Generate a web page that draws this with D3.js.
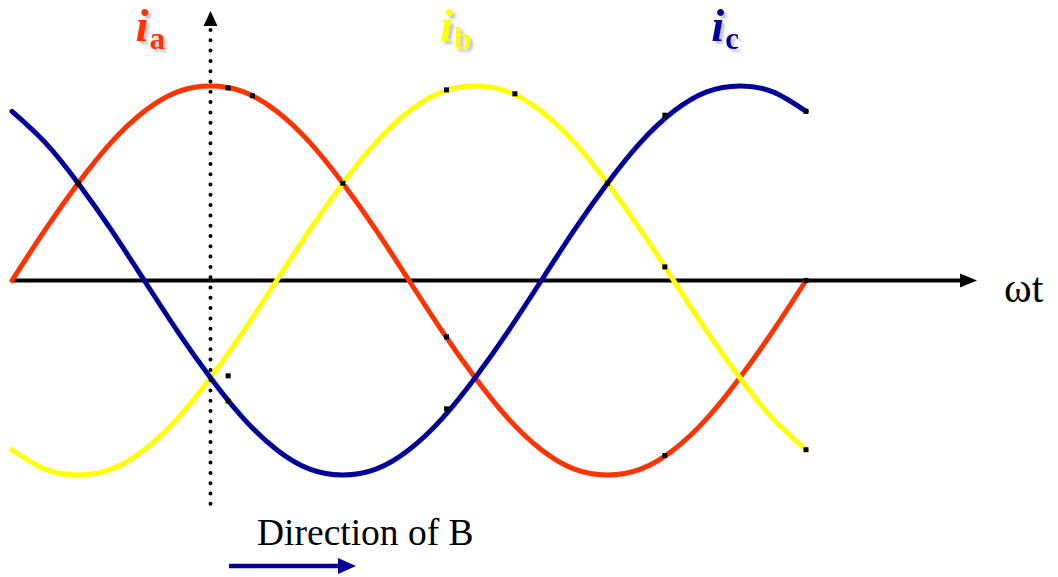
<!DOCTYPE html>
<html>
<head>
<meta charset="utf-8">
<script src="https://cdn.jsdelivr.net/npm/d3@7"></script>
</head>
<body style="margin:0">
<script>
// phase angle in degrees (omega t), every 15 deg
const angles = [0, 15, 30, 45, 60, 75, 90, 105, 120, 135, 150, 165, 180,
                195, 210, 225, 240, 255, 270, 285, 300, 315, 330, 345, 360];

// phase currents (peak = 1)
const ia = [0, .26, .5, .71, .87, .97, 1, .97, .87, .71, .5, .26, 0,
            -.26, -.5, -.71, -.87, -.97, -1, -.97, -.87, -.71, -.5, -.26, 0];
const ib = [-.87, -.97, -1, -.97, -.87, -.71, -.5, -.26, 0, .26, .5, .71, .87,
            .97, 1, .97, .87, .71, .5, .26, 0, -.26, -.5, -.71, -.87];
const ic = [.87, .71, .5, .26, 0, -.26, -.5, -.71, -.87, -.97, -1, -.97, -.87,
            -.71, -.5, -.26, 0, .26, .5, .71, .87, .97, 1, .97, .87];

// little black point marks left on the curves [angle, value]
const iaMarks = [[30, .5], [98, .99], [109, .95], [150, .5], [197, -.29], [296, -.9], [360, 0]];
const ibMarks = [[98, -.49], [197, .98], [228, .96], [296, .07], [360, -.87]];
const icMarks = [[98, -.62], [197, -.66], [270, .5], [296, .85], [360, .87]];

const seriesNames = ["a", "b", "c"];
const seriesColors = ["#ff3300", "#ffff00", "#000099"];
const labelAngles = [56, 194, 317];

const width = 1058, height = 577;
const markerAngle = 90;

const svg = d3.select("body").append("svg")
    .attr("width", width)
    .attr("height", height)
    .style("display", "block");

const defs = svg.append("defs");
const shadow = defs.append("filter").attr("id", "shadow")
    .attr("x", "-20%").attr("y", "-20%").attr("width", "150%").attr("height", "150%");
shadow.append("feDropShadow")
    .attr("dx", 3).attr("dy", 3).attr("stdDeviation", 1.5)
    .attr("flood-color", "#999").attr("flood-opacity", 0.6);

const x = d3.scaleLinear().domain([0, 360]).range([12, 806]);
const y = d3.scaleLinear().domain([-1, 1]).range([475, 86]);

//time axis
svg.append("line")
    .attr("x1", x(0)).attr("x2", 962)
    .attr("y1", y(0)).attr("y2", y(0))
    .attr("stroke", "#000").attr("stroke-width", 4);
svg.append("path")
    .attr("d", `M960,${y(0) - 7}L977,${y(0)}L960,${y(0) + 7}Z`)
    .attr("fill", "#000");

//curves
const line = d3.line()
    .x(d => x(d[0]))
    .y(d => y(d[1]))
    .curve(d3.curveNatural);

const allSeries = [ia, ib, ic];
const allMarks = [iaMarks, ibMarks, icMarks];

allSeries.forEach((vals, i) => {
    svg.append("path")
        .datum(angles.map((a, j) => [a, vals[j]]))
        .attr("d", line)
        .attr("fill", "none")
        .attr("stroke", seriesColors[i])
        .attr("stroke-width", 5)
        .attr("stroke-linecap", "round");
});

allMarks.forEach(marks => {
    svg.append("g").selectAll("rect")
        .data(marks)
        .enter()
            .append("rect")
            .attr("x", d => x(d[0]) - 2.5)
            .attr("y", d => y(d[1]) - 2.5)
            .attr("width", 5)
            .attr("height", 5)
            .attr("fill", "#000");
});

//dotted marker line at 90 deg
svg.append("line")
    .attr("x1", x(markerAngle)).attr("x2", x(markerAngle))
    .attr("y1", 30).attr("y2", 507)
    .attr("stroke", "#000")
    .attr("stroke-width", 4)
    .attr("stroke-linecap", "round")
    .attr("stroke-dasharray", "0 10.3");
svg.append("path")
    .attr("d", `M${x(markerAngle) - 7},26L${x(markerAngle)},11L${x(markerAngle) + 7},26Z`)
    .attr("fill", "#000");

//texts, font set the same way on each
const texts = [
    {t: "ωt", x: 1004, y: 302, size: 42},
    {t: "Direction of B", x: 257, y: 545, size: 37.5}
];
svg.selectAll("text.plain")
    .data(texts)
    .enter()
        .append("text")
        .attr("class", "plain")
        .attr("x", d => d.x)
        .attr("y", d => d.y)
        .style("font-family", `"Liberation Serif"`)
        .attr("font-size", d => d.size)
        .text(d => d.t);

//phase labels
seriesNames.forEach((n, i) => {
    const t = svg.append("text")
        .attr("x", x(labelAngles[i]))
        .attr("y", 41)
        .style("font-family", `"Liberation Serif"`)
        .attr("font-weight", "bold")
        .attr("fill", seriesColors[i])
        .attr("filter", "url(#shadow)");
    t.append("tspan")
        .attr("font-style", "italic")
        .attr("font-size", 47)
        .text("i");
    t.append("tspan")
        .attr("font-size", 31)
        .attr("dy", 8)
        .attr("dx", 1)
        .text(n);
});

//direction arrow
svg.append("line")
    .attr("x1", 229).attr("x2", 342)
    .attr("y1", 566).attr("y2", 566)
    .attr("stroke", "#000099").attr("stroke-width", 4.5);
svg.append("path")
    .attr("d", "M338,558L356,566L338,574Z")
    .attr("fill", "#000099");
</script>
</body>
</html>
